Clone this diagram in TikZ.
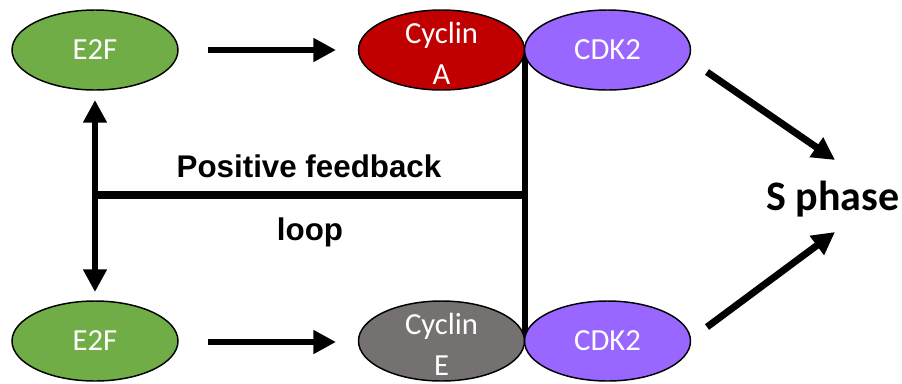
\documentclass[tikz,border=0pt]{standalone}
\usepackage{fontspec}
\setmainfont{Carlito}
\newfontfamily\arialfont{Liberation Sans}
\usetikzlibrary{shapes.geometric,arrows.meta,backgrounds}
\definecolor{egreen}{HTML}{70AD47}
\definecolor{cred}{HTML}{C00000}
\definecolor{cpurple}{HTML}{9966FF}
\definecolor{cgray}{HTML}{767171}
\newcommand{\twolines}[2]{\smash{\raisebox{-8.75pt}{\parbox{60pt}{\centering #1\\#2}}}}
\tikzset{
  prot/.style={ellipse, draw=black, line width=1.1pt, minimum width=124.5pt, minimum height=60pt,
    inner sep=0pt, text=white, font=\fontsize{23}{30.5}\selectfont, align=center},
  arr/.style={line width=5.2pt, -{Triangle[length=17pt,width=17pt]}},
  darr/.style={line width=5.2pt, {Triangle[length=17pt,width=17pt]}-{Triangle[length=17pt,width=17pt]}},
  lbl/.style={font=\arialfont\bfseries\fontsize{23.5}{28}\selectfont, anchor=base, inner sep=0pt},
}
\begin{document}
\begin{tikzpicture}[x=0.75pt, y=-0.75pt]
\useasboundingbox (0,0) rectangle (902,383);
% nodes
\node[prot, fill=egreen] (e2fA) at (95,50) {E2F};
\node[prot, fill=cred] (cycA) at (441.5,50) {\twolines{Cyclin}{A}};
\node[prot, fill=cpurple] (cdkA) at (607.5,50) {CDK2};
\node[prot, fill=egreen] (e2fE) at (95,341) {E2F};
\node[prot, fill=cgray] (cycE) at (441.5,341) {\twolines{Cyclin}{E}};
\node[prot, fill=cpurple] (cdkE) at (607.5,341) {CDK2};
\node[font=\bfseries\fontsize{31.5}{36}\selectfont, anchor=base, inner sep=0pt] (sph) at (833,210) {S phase};
\node[lbl] (pf) at (309,177) {Positive feedback};
\node[lbl] (loop) at (310,240) {loop};
% coordinates
\coordinate (a1s) at (208,50);
\coordinate (a1e) at (336,50);
\coordinate (a2s) at (208,342);
\coordinate (a2e) at (336,342);
\coordinate (jn) at (524,195);
\coordinate (lj) at (95,195);
\coordinate (up) at (95,100);
\coordinate (dn) at (95,292);
\coordinate (d1s) at (707,72);
\coordinate (d1e) at (835,160);
\coordinate (d2s) at (707,327);
\coordinate (d2e) at (835,232);
% connectors
\begin{scope}[on background layer]
\draw[line width=4.6pt] (cycA.east) -- (cycE.east);
\end{scope}
\draw[arr] (a1s) -- (a1e);
\draw[arr] (a2s) -- (a2e);
\draw[line width=6pt] (jn) -- (lj);
\draw[darr] (up) -- (dn);
\draw[arr] (d1s) -- (d1e);
\draw[arr] (d2s) -- (d2e);
\end{tikzpicture}
\end{document}
